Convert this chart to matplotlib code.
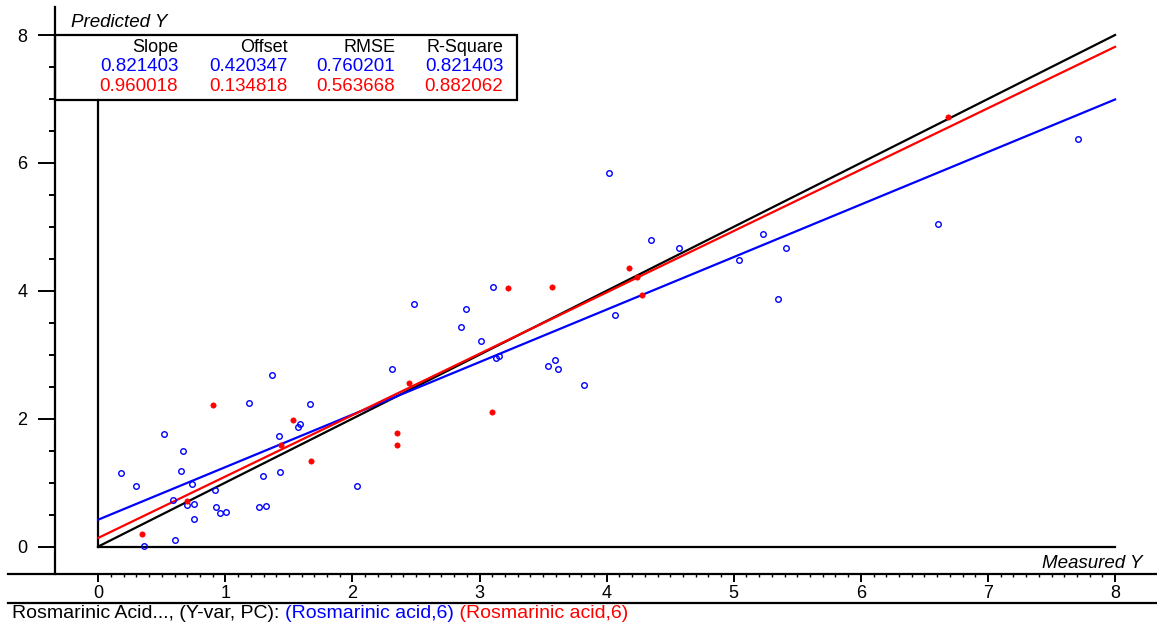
import numpy as np
import matplotlib
matplotlib.use("Agg")
import matplotlib.pyplot as plt
from matplotlib.patches import Rectangle
from matplotlib.lines import Line2D
from matplotlib.ticker import MultipleLocator, FixedLocator

plt.rcParams['font.family'] = ['Liberation Sans', 'DejaVu Sans']
plt.rcParams['font.size'] = 13

# ---- data ----
cal_x = [0.175, 0.297, 0.517, 0.590, 0.600, 0.650, 0.668, 0.698, 0.751, 0.735,
         0.751, 0.920, 0.926, 0.960, 1.002, 1.184, 1.264, 1.317, 1.294, 1.367,
         1.419, 1.427, 1.571, 1.587, 1.663, 2.035, 2.308, 2.486, 2.851, 2.893,
         3.011, 3.105, 3.131, 3.152, 3.538, 3.596, 3.614, 3.824, 4.021, 4.063,
         4.349, 4.569, 5.043, 5.230, 5.350, 5.408, 6.604, 7.706, 0.360]
cal_y = [1.145, 0.942, 1.755, 0.727, 0.097, 1.181, 1.498, 0.644, 0.665, 0.973,
         0.435, 0.888, 0.622, 0.519, 0.535, 2.240, 0.622, 0.638, 1.107, 2.682,
         1.733, 1.160, 1.869, 1.921, 2.224, 0.942, 2.781, 3.793, 3.438, 3.710,
         3.219, 4.063, 2.953, 2.975, 2.828, 2.917, 2.781, 2.526, 5.837, 3.625,
         4.789, 4.673, 4.481, 4.892, 3.876, 4.673, 5.039, 6.373, 0.013]

val_x = [0.344, 0.698, 0.904, 1.439, 1.530, 1.673, 2.350, 2.350, 2.444, 3.097,
         3.226, 3.570, 4.172, 4.240, 4.281, 6.687]
val_y = [0.200, 0.707, 2.208, 1.583, 1.974, 1.332, 1.770, 1.583, 2.562, 2.104,
         4.048, 4.063, 4.351, 4.220, 3.929, 6.713]

stat_names = ['Slope', 'Offset', 'RMSE', 'R-Square']
cal_stats = ['0.821403', '0.420347', '0.760201', '0.821403']
val_stats = ['0.960018', '0.134818', '0.563668', '0.882062']
cal_fit = (0.821403, 0.420347)
val_fit = (0.960018, 0.134818)

BLUE = '#0000FF'
RED = '#FF0000'

W, H = 1157, 625
fig = plt.figure(figsize=(W / 100, H / 100), dpi=100)
fig.patch.set_facecolor('white')


def px(x, y):
    """pixel -> figure fraction"""
    return x / W, 1 - y / H


ax = fig.add_axes([8 / W, 1 - 574 / H, (W - 8) / W, (574 - 7) / H])
ax.set_xlim(-0.7105, 8.330)
ax.set_ylim(-0.430, 8.438)

for s in ['top', 'right']:
    ax.spines[s].set_visible(False)
ax.spines['left'].set_position(('data', -0.338))
for s in ['left', 'bottom']:
    ax.spines[s].set_linewidth(1.6)

ax.set_xticks(np.arange(0, 9))
ax.xaxis.set_minor_locator(FixedLocator(np.round(np.arange(0, 8.01, 0.1), 2)))
ax.set_yticks(np.arange(0, 9, 2))
ax.yaxis.set_minor_locator(MultipleLocator(0.5))
ax.tick_params(axis='y', which='major', direction='out', length=12, width=1.4, pad=8)
ax.tick_params(axis='y', which='minor', direction='out', length=4.5, width=1.4)
ax.tick_params(axis='x', which='major', direction='out', length=6, width=1.4, pad=2)
ax.tick_params(axis='x', which='minor', direction='out', length=2.2, width=1.0)
ax.tick_params(labelsize=13)

# inner frame lines at x=0 and y=0
ax.plot([0, 0], [0, 6.98], color='black', lw=1.6, clip_on=False)
ax.plot([0, 8], [0, 0], color='black', lw=1.6, clip_on=False)

# fit lines
xx = np.array([0, 8])
ax.plot(xx, xx, color='black', lw=1.6)
ax.plot(xx, cal_fit[0] * xx + cal_fit[1], color=BLUE, lw=1.6)
ax.plot(xx, val_fit[0] * xx + val_fit[1], color=RED, lw=1.6)

# points
ax.plot(cal_x, cal_y, 'o', ms=4, mfc='none', mec=BLUE, mew=1.0, zorder=4)
ax.plot(val_x, val_y, 'o', ms=3.8, mfc=RED, mec=RED, mew=0.5, zorder=4)

# stats box
ax.add_patch(Rectangle((-0.338, 6.98), 3.297 + 0.338, 8 - 6.98, fill=False,
                       ec='black', lw=1.6, clip_on=False, zorder=5))
col_right = [0.629, 1.487, 2.337, 3.186]
for cx, name, cv, vv in zip(col_right, stat_names, cal_stats, val_stats):
    ax.text(cx, 7.80, name, ha='right', va='center', color='black')
    ax.text(cx, 7.50, cv, ha='right', va='center', color=BLUE, fontsize=13.5)
    ax.text(cx, 7.19, vv, ha='right', va='center', color=RED, fontsize=13.5)

ax.text(-0.212, 8.20, 'Predicted Y', ha='left', va='center', style='italic',
        fontsize=13.5)
ax.text(8.214, -0.258, 'Measured Y', ha='right', va='center', style='italic',
        fontsize=13.5)

# separator line below tick labels
x0, y0 = px(8, 603)
x1, _ = px(W, 603)
fig.add_artist(Line2D([x0, x1], [y0, y0], color='black', lw=1.6))

# caption with coloured parts
parts = [('Rosmarinic Acid..., (Y-var, PC): ', 'black'),
         ('(Rosmarinic acid,6)', BLUE),
         (' (Rosmarinic acid,6)', RED)]
renderer = fig.canvas.get_renderer()
cx, cy = px(12, 614)
for txt, col in parts:
    t = fig.text(cx, cy, txt, ha='left', va='center', color=col, fontsize=14)
    bb = t.get_window_extent(renderer=renderer)
    cx = bb.x1 / W

fig.savefig('out.png', dpi=100, facecolor='white')
